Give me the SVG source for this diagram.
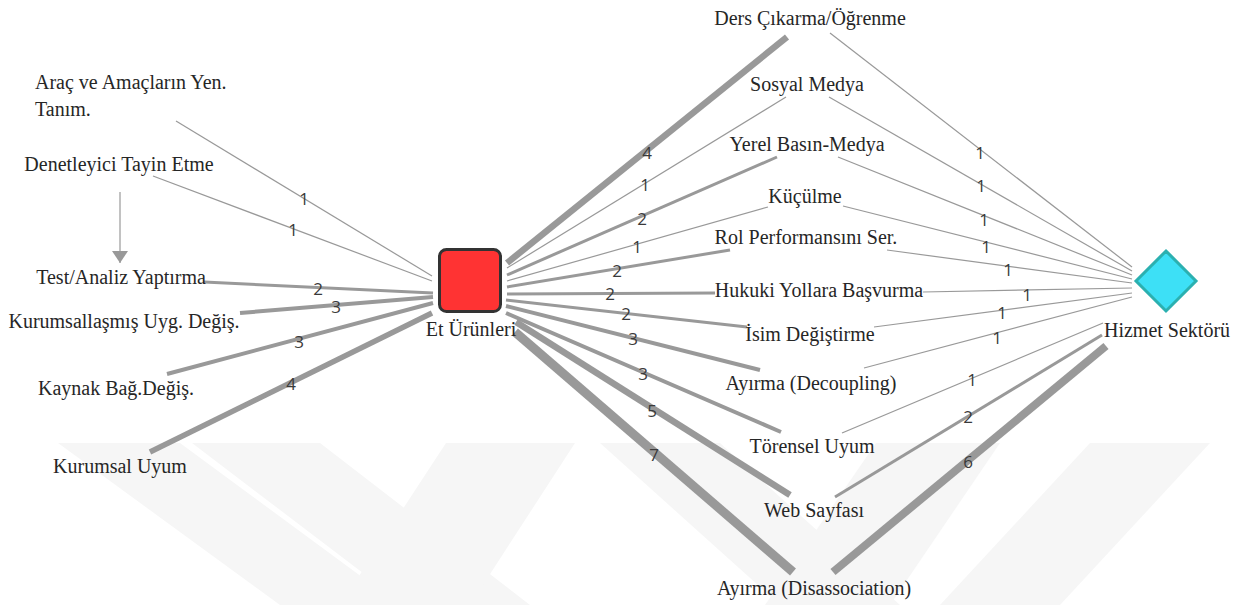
<svg xmlns="http://www.w3.org/2000/svg" width="1248" height="605" viewBox="0 0 1248 605">
<style>
.lbl{font-family:"Liberation Serif","Times New Roman",serif;font-size:20px;fill:#262626;text-anchor:middle}
.lft{text-anchor:start}
.e{stroke:#999;fill:none;stroke-linecap:butt}
.w1{stroke-width:1.2}.w2{stroke-width:3}.w3{stroke-width:4}.w4{stroke-width:5.5}.w5{stroke-width:6.5}.w6{stroke-width:8}.w7{stroke-width:9}
.n{font-family:"Open Sans","DejaVu Sans",sans-serif;font-size:17px;fill:#3a3a3a;text-anchor:middle;dominant-baseline:central}
.wm{fill:#f6f6f6}
</style>
<defs>
<marker id="arr" viewBox="0 0 12 16" refX="12" refY="8" markerWidth="12" markerHeight="16" markerUnits="userSpaceOnUse" orient="auto">
<path d="M0,0 L12,8 L0,16 z" fill="#999"/>
</marker>
</defs>
<rect width="1248" height="605" fill="#fff"/>
<g id="watermark">
<polygon class="wm" points="58,443 180,443 400,605 280,605"/>
<polygon class="wm" points="192,443 320,443 530,605 405,605"/>
<polygon class="wm" points="446,443 575,443 470,605 340,605"/>
<polygon class="wm" points="600,443 720,443 900,605 780,605"/>
<polygon class="wm" points="876,443 1000,443 890,605 765,605"/>
<polygon class="wm" points="1090,443 1210,443 1060,605 940,605"/>
</g>
<g id="connectors">
<line class="e w1" x1="176" y1="121" x2="432" y2="276"/>
<line class="e w1" x1="153" y1="176" x2="432" y2="281"/>
<line class="e w2" x1="204" y1="282" x2="433" y2="293"/>
<line class="e w3" x1="240" y1="313" x2="433" y2="297"/>
<line class="e w3" x1="167" y1="374" x2="433" y2="303"/>
<line class="e w4" x1="150" y1="452" x2="432" y2="313"/>
<line class="e w1" x1="120" y1="192" x2="120" y2="263" marker-end="url(#arr)"/>
<line class="e w5" x1="507" y1="263" x2="787" y2="37"/>
<line class="e w1" x1="507" y1="268" x2="786" y2="97"/>
<line class="e w2" x1="507" y1="275" x2="777" y2="157"/>
<line class="e w1" x1="507" y1="281" x2="768" y2="207"/>
<line class="e w2" x1="507" y1="287" x2="730" y2="250"/>
<line class="e w2" x1="507" y1="294" x2="715" y2="293"/>
<line class="e w2" x1="506" y1="300" x2="747" y2="327"/>
<line class="e w3" x1="506" y1="306" x2="760" y2="370"/>
<line class="e w3" x1="506" y1="313" x2="781" y2="432"/>
<line class="e w5" x1="516" y1="322" x2="790" y2="495"/>
<line class="e w7" x1="515" y1="332" x2="793" y2="572"/>
<line class="e w1" x1="830" y1="33" x2="1132" y2="267"/>
<line class="e w1" x1="829" y1="97" x2="1132" y2="271"/>
<line class="e w1" x1="838" y1="157" x2="1132" y2="275"/>
<line class="e w1" x1="843" y1="206" x2="1132" y2="279"/>
<line class="e w1" x1="887" y1="250" x2="1132" y2="283"/>
<line class="e w1" x1="923" y1="292" x2="1132" y2="288"/>
<line class="e w1" x1="874" y1="327" x2="1132" y2="293"/>
<line class="e w1" x1="864" y1="368" x2="1132" y2="297"/>
<line class="e w1" x1="842" y1="433" x2="1103" y2="323"/>
<line class="e w2" x1="835" y1="497" x2="1102" y2="335"/>
<line class="e w6" x1="833" y1="572" x2="1106" y2="346"/>
<text class="n" x="304" y="198">1</text>
<text class="n" x="293" y="229">1</text>
<text class="n" x="318" y="288">2</text>
<text class="n" x="336" y="306">3</text>
<text class="n" x="299" y="341">3</text>
<text class="n" x="291" y="383">4</text>
<text class="n" x="647" y="152">4</text>
<text class="n" x="645" y="184">1</text>
<text class="n" x="642" y="218">2</text>
<text class="n" x="637" y="246">1</text>
<text class="n" x="617" y="270">2</text>
<text class="n" x="610" y="293">2</text>
<text class="n" x="626" y="313">2</text>
<text class="n" x="633" y="338">3</text>
<text class="n" x="643" y="373">3</text>
<text class="n" x="652" y="410">5</text>
<text class="n" x="654" y="454">7</text>
<text class="n" x="980" y="152">1</text>
<text class="n" x="981" y="185">1</text>
<text class="n" x="984" y="219">1</text>
<text class="n" x="986" y="246">1</text>
<text class="n" x="1008" y="269">1</text>
<text class="n" x="1027" y="294">1</text>
<text class="n" x="1002" y="312">1</text>
<text class="n" x="997" y="337">1</text>
<text class="n" x="972" y="379">1</text>
<text class="n" x="968" y="416">2</text>
<text class="n" x="968" y="461">6</text>
</g>
<g id="n-et">
<rect x="439.5" y="249.5" width="61" height="62" rx="7" fill="#ff3333" stroke="#333" stroke-width="3"/>
<text class="lbl" x="471" y="336">Et Ürünleri</text>
</g>
<g id="n-hizmet">
<polygon points="1166,251 1196,281 1166,311 1136,281" fill="#3de0f6" stroke="#2bb0b0" stroke-width="3"/>
<text class="lbl" x="1167" y="337">Hizmet Sektörü</text>
</g>
<g id="n-arac"><text class="lbl lft" x="35" y="89">Araç ve Amaçların Yen.</text><text class="lbl lft" x="35" y="116">Tanım.</text></g>
<g id="n-denet"><text class="lbl" x="119" y="171">Denetleyici Tayin Etme</text></g>
<g id="n-test"><text class="lbl" x="121" y="284">Test/Analiz Yaptırma</text></g>
<g id="n-kurumsallasmis"><text class="lbl" x="124" y="328">Kurumsallaşmış Uyg. Değiş.</text></g>
<g id="n-kaynak"><text class="lbl" x="116" y="395">Kaynak Bağ.Değiş.</text></g>
<g id="n-kurumsal"><text class="lbl" x="120" y="473">Kurumsal Uyum</text></g>
<g id="n-ders"><text class="lbl" x="810" y="25">Ders Çıkarma/Öğrenme</text></g>
<g id="n-sosyal"><text class="lbl" x="807" y="91">Sosyal Medya</text></g>
<g id="n-yerel"><text class="lbl" x="807" y="151">Yerel Basın-Medya</text></g>
<g id="n-kucul"><text class="lbl" x="805" y="203">Küçülme</text></g>
<g id="n-rol"><text class="lbl" x="806" y="244">Rol Performansını Ser.</text></g>
<g id="n-hukuki"><text class="lbl" x="819" y="297">Hukuki Yollara Başvurma</text></g>
<g id="n-isim"><text class="lbl" x="810" y="341">İsim Değiştirme</text></g>
<g id="n-decoup"><text class="lbl" x="811" y="390">Ayırma (Decoupling)</text></g>
<g id="n-toren"><text class="lbl" x="812" y="453">Törensel Uyum</text></g>
<g id="n-web"><text class="lbl" x="814" y="517">Web Sayfası</text></g>
<g id="n-disas"><text class="lbl" x="814" y="595">Ayırma (Disassociation)</text></g>
</svg>
